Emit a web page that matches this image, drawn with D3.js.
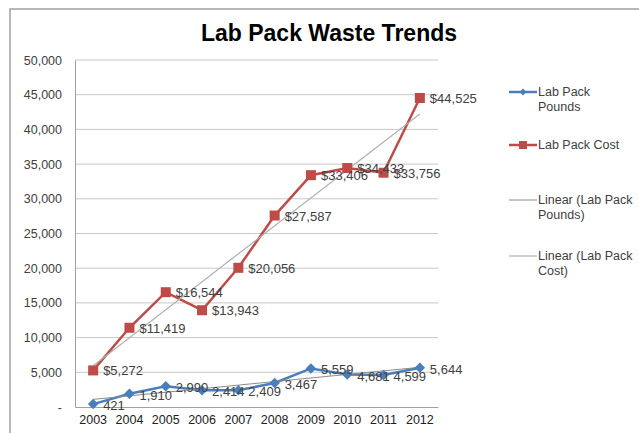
<!DOCTYPE html>
<html>
<head>
<meta charset="utf-8">
<script src="https://cdn.jsdelivr.net/npm/d3@7"></script>
<style>
  body { margin: 0; background: #fff; }
  text { font-family: "Liberation Sans", Arial, sans-serif; }
</style>
</head>
<body>
<svg id="chart" width="639" height="433"></svg>
<script>
// data
var years = ["2003","2004","2005","2006","2007","2008","2009","2010","2011","2012"];
var pounds = [421, 1910, 2990, 2414, 2409, 3467, 5559, 4681, 4599, 5644];
var cost = [5272, 11419, 16544, 13943, 20056, 27587, 33406, 34433, 33756, 44525];
var yTicks = [0, 5000, 10000, 15000, 20000, 25000, 30000, 35000, 40000, 45000, 50000];
var legendNames = ["Lab Pack Pounds", "Lab Pack Cost", "Linear (Lab Pack Pounds)", "Linear (Lab Pack Cost)"];

var svg = d3.select("#chart");
var blue = "#4a7ebb", red = "#be4b48";
var trendPounds = "#8c8c8c", trendCost = "#b0b0b0";
var labelColor = "#404040";

// outer frame
svg.append("rect").attr("x", 10).attr("y", 9).attr("width", 640).attr("height", 440)
    .attr("fill", "none").attr("stroke", "#a0a0a0").attr("stroke-width", 1.5);

svg.append("text").attr("x", 329).attr("y", 41).attr("text-anchor", "middle")
    .attr("font-size", 23).attr("font-weight", "bold").attr("fill", "#000")
    .text("Lab Pack Waste Trends");

var plotLeft = 75, plotRight = 438, plotTop = 60, plotBottom = 407;
var x = d3.scaleBand().domain(years).range([plotLeft, plotRight]);
var y = d3.scaleLinear().domain([0, 50000]).range([plotBottom, plotTop]);
var cx = function (i) { return x(years[i]) + x.bandwidth() / 2; };

// gridlines
svg.append("g").selectAll("line").data(yTicks.slice(1)).enter().append("line")
    .attr("x1", plotLeft).attr("x2", plotRight)
    .attr("y1", function (d) { return y(d); }).attr("y2", function (d) { return y(d); })
    .attr("stroke", "#c8c8c8").attr("stroke-width", 1);

// y axis
var yAxis = svg.append("g").attr("transform", "translate(" + plotLeft + ",0)")
    .call(d3.axisLeft(y).tickValues(yTicks).tickSize(0).tickPadding(13)
        .tickFormat(function (d) { return d === 0 ? "-" : d3.format(",")(d); }));
yAxis.select(".domain").attr("stroke", "#a0a0a0");
yAxis.selectAll("text").attr("font-size", 12.5).attr("fill", labelColor)
    .style("font-family", "'Liberation Sans', Arial, sans-serif");

// x axis
var xAxis = svg.append("g").attr("transform", "translate(0," + plotBottom + ")")
    .call(d3.axisBottom(x).tickSize(0).tickPadding(8));
xAxis.select(".domain").attr("stroke", "#a0a0a0");
xAxis.selectAll("text").attr("font-size", 12.5).attr("fill", "#222")
    .style("font-family", "'Liberation Sans', Arial, sans-serif");

// linear trend lines (least squares fit of each series)
function fit(vals) {
    var n = vals.length, mx = (n - 1) / 2, my = d3.mean(vals);
    var sxy = 0, sxx = 0;
    vals.forEach(function (v, i) { sxy += (i - mx) * (v - my); sxx += (i - mx) * (i - mx); });
    var b = sxy / sxx, a = my - b * mx;
    return [[0, a], [n - 1, a + b * (n - 1)]];
}
var trendLine = d3.line().x(function (d) { return cx(d[0]); }).y(function (d) { return y(d[1]); });

var line = d3.line().x(function (d, i) { return cx(i); }).y(function (d) { return y(d); });

svg.append("path").datum(cost).attr("d", line).attr("fill", "none")
    .attr("stroke", red).attr("stroke-width", 2.5);
svg.append("path").datum(pounds).attr("d", line).attr("fill", "none")
    .attr("stroke", blue).attr("stroke-width", 2.5);

svg.append("path").datum(fit(pounds)).attr("d", trendLine).attr("fill", "none")
    .attr("stroke", trendPounds).attr("stroke-width", 1);
svg.append("path").datum(fit(cost)).attr("d", trendLine).attr("fill", "none")
    .attr("stroke", trendCost).attr("stroke-width", 1.2);

// markers
svg.append("g").selectAll("rect").data(cost).enter().append("rect")
    .attr("x", function (d, i) { return cx(i) - 5; })
    .attr("y", function (d) { return y(d) - 5; })
    .attr("width", 10).attr("height", 10).attr("fill", red);
var diamond = d3.symbol().type(d3.symbolDiamond2).size(70);
svg.append("g").selectAll("path").data(pounds).enter().append("path")
    .attr("d", diamond)
    .attr("transform", function (d, i) { return "translate(" + cx(i) + "," + y(d) + ")"; })
    .attr("fill", blue);

// data labels
svg.append("g").selectAll("text").data(cost).enter().append("text")
    .attr("x", function (d, i) { return cx(i) + 10; })
    .attr("y", function (d) { return y(d) + 5; })
    .attr("font-size", 13).attr("fill", labelColor)
    .text(function (d) { return "$" + d3.format(",")(d); });
svg.append("g").selectAll("text").data(pounds).enter().append("text")
    .attr("x", function (d, i) { return cx(i) + 10; })
    .attr("y", function (d) { return y(d) + 6; })
    .attr("font-size", 13).attr("fill", labelColor)
    .text(function (d) { return d3.format(",")(d); });

// legend
var lg = svg.append("g").attr("transform", "translate(509,0)");
var items = [
    {name: legendNames[0], y: 92, color: blue, mark: "diamond", w: 2.5},
    {name: legendNames[1], y: 145, color: red, mark: "square", w: 2.5},
    {name: legendNames[2], y: 200, color: trendPounds, mark: null, w: 1},
    {name: legendNames[3], y: 256, color: trendCost, mark: null, w: 1.2}
];
var wraps = {
    "Lab Pack Pounds": ["Lab Pack", "Pounds"],
    "Lab Pack Cost": ["Lab Pack Cost"],
    "Linear (Lab Pack Pounds)": ["Linear (Lab Pack", "Pounds)"],
    "Linear (Lab Pack Cost)": ["Linear (Lab Pack", "Cost)"]
};
items.forEach(function (it) {
    lg.append("line").attr("x1", 0).attr("x2", 28).attr("y1", it.y).attr("y2", it.y)
        .attr("stroke", it.color).attr("stroke-width", it.w);
    if (it.mark === "diamond") {
        lg.append("path").attr("d", d3.symbol().type(d3.symbolDiamond2).size(30))
            .attr("transform", "translate(14," + it.y + ")").attr("fill", it.color);
    } else if (it.mark === "square") {
        lg.append("rect").attr("x", 10).attr("y", it.y - 4).attr("width", 8).attr("height", 8)
            .attr("fill", it.color);
    }
    var t = lg.append("text").attr("x", 29).attr("y", it.y + 4)
        .attr("font-size", 12.5).attr("fill", labelColor);
    wraps[it.name].forEach(function (s, k) {
        t.append("tspan").attr("x", 29).attr("dy", k === 0 ? 0 : 14.5).text(s);
    });
});
</script>
</body>
</html>
